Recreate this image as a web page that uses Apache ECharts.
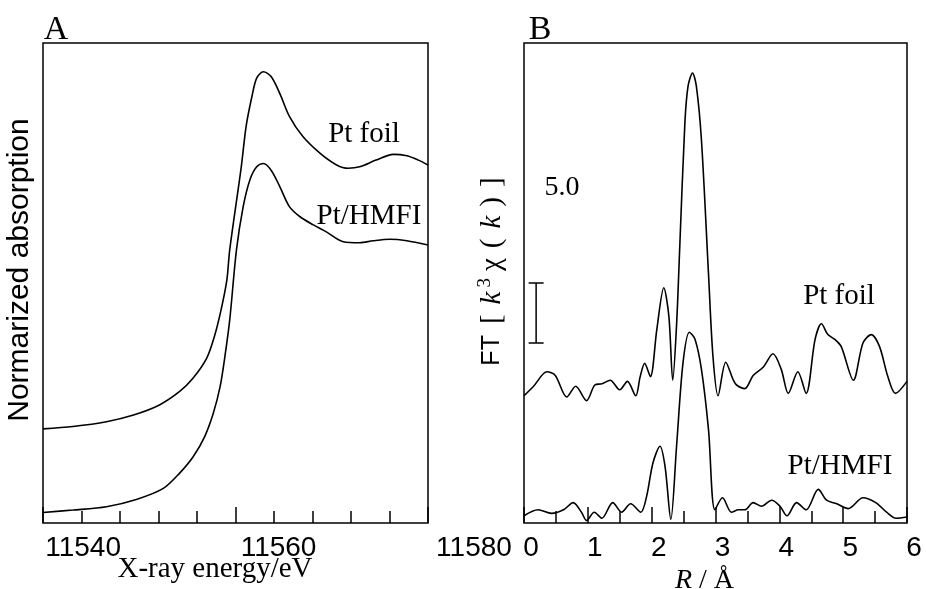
<!DOCTYPE html>
<html>
<head>
<meta charset="utf-8">
<script src="https://cdn.jsdelivr.net/npm/echarts@6/dist/echarts.min.js"></script>
<style>html,body{margin:0;padding:0;background:#fff;}#chart{width:926px;height:589px;}</style>
</head>
<body>
<div id="chart"></div>
<script>
// ---------- Panel A : XANES ----------
const aEnergyFoil = [11536.0, 11539.1, 11542.6, 11545.4, 11548.1, 11550.2, 11551.6, 11553.0, 11553.8, 11554.5, 11555.1, 11555.4, 11556.6, 11557.1, 11557.7, 11558.2, 11558.9, 11559.7, 11560.6, 11561.6, 11563.0, 11564.8, 11566.5, 11567.7, 11568.9, 11570.6, 11572.4, 11573.8, 11575.0, 11576.0];
const aFoil = [19.6, 20.1, 21.1, 22.5, 24.6, 27.4, 30.2, 34.3, 38.8, 44.4, 50.6, 56.9, 74.2, 82.6, 88.8, 92.7, 94.0, 93.0, 89.5, 84.7, 80.5, 77.0, 74.6, 73.9, 74.2, 75.6, 76.8, 76.5, 75.6, 74.6];
const aEnergyHmfi = [11536.0, 11539.1, 11542.6, 11545.7, 11548.5, 11550.2, 11551.6, 11552.8, 11553.7, 11554.4, 11554.9, 11555.4, 11556.1, 11556.8, 11557.5, 11558.2, 11558.9, 11559.7, 11560.6, 11561.6, 11562.7, 11564.1, 11565.4, 11567.2, 11568.9, 11570.3, 11572.0, 11573.8, 11576.0];
const aHmfi = [2.2, 2.7, 3.4, 4.9, 7.2, 10.4, 13.8, 18.0, 22.9, 28.4, 34.7, 42.3, 56.9, 65.9, 71.5, 74.2, 74.9, 73.5, 70.1, 65.9, 63.8, 62.1, 60.7, 58.6, 58.4, 58.8, 59.1, 58.8, 57.9];
const aTickLabels = [11540, 11560, 11580];

// ---------- Panel B : FT-EXAFS ----------
const bRFoil = [0.00, 0.15, 0.36, 0.49, 0.67, 0.81, 0.98, 1.11, 1.22, 1.35, 1.50, 1.62, 1.75, 1.82, 1.89, 1.98, 2.08, 2.19, 2.27, 2.33, 2.39, 2.44, 2.52, 2.57, 2.64, 2.70, 2.78, 2.89, 2.96, 3.04, 3.16, 3.28, 3.33, 3.46, 3.59, 3.75, 3.90, 4.03, 4.14, 4.29, 4.42, 4.56, 4.66, 4.76, 4.87, 4.97, 5.16, 5.31, 5.44, 5.57, 5.70, 5.82, 6.00];
const bFoil = [10.6, 11.4, 12.6, 12.3, 10.5, 11.4, 10.2, 11.5, 11.6, 11.9, 11.1, 11.8, 10.6, 12.2, 13.3, 12.2, 16.1, 19.6, 17.2, 11.9, 16.5, 23.0, 33.3, 36.4, 37.5, 36.4, 31.9, 20.8, 13.9, 10.6, 13.4, 11.9, 11.5, 11.2, 12.3, 13.0, 14.1, 12.8, 10.8, 12.6, 10.8, 15.3, 16.6, 15.7, 15.3, 14.7, 11.9, 15.0, 15.7, 14.7, 12.2, 10.8, 11.8];
const bRHmfi = [0.00, 0.22, 0.43, 0.62, 0.77, 0.90, 0.98, 1.10, 1.22, 1.39, 1.53, 1.67, 1.83, 1.92, 2.02, 2.13, 2.21, 2.30, 2.39, 2.49, 2.59, 2.68, 2.78, 2.89, 2.99, 3.11, 3.25, 3.36, 3.46, 3.59, 3.72, 3.88, 4.01, 4.12, 4.27, 4.42, 4.61, 4.74, 4.90, 5.08, 5.31, 5.51, 5.68, 5.83, 6.00];
const bHmfi = [0.6, 1.1, 0.8, 1.1, 1.7, 0.9, 0.2, 0.9, 0.4, 1.7, 0.9, 1.6, 0.9, 2.2, 5.0, 6.4, 4.7, 0.3, 6.4, 13.3, 15.9, 15.3, 12.8, 7.8, 1.1, 2.1, 0.9, 1.1, 1.1, 1.7, 1.4, 1.9, 1.4, 0.6, 1.7, 1.1, 2.8, 1.9, 1.6, 1.2, 2.1, 1.7, 0.9, 0.4, 0.5];
// scale bar: [R position, bottom, top]  (5.0 units)
const bScaleBar = [[0.19, 15, 20]];
const bScaleLabel = '5.0';

const zip = (xs, ys) => xs.map((x, i) => [x, ys[i]]);
const SERIF = "'Liberation Serif', 'Times New Roman', serif";
const SANS = "'Liberation Sans', Arial, sans-serif";
const lineW = 1.6;

const chart = echarts.init(document.getElementById('chart'), null, {renderer: 'canvas'});

const noSplit = {show: false};
const tickStyle = {color: '#000', width: 1.5};
function tickAxis(gridIndex, min, max, interval, length) {
  return {
    type: 'value', gridIndex: gridIndex, position: 'bottom', min: min, max: max, interval: interval,
    axisLine: {show: false, onZero: false}, axisLabel: {show: false}, splitLine: noSplit,
    axisTick: {show: true, inside: true, length: length, lineStyle: tickStyle}
  };
}

const option = {
  backgroundColor: '#fff',
  animation: false,
  grid: [
    {left: 43, top: 43, width: 385, height: 480, show: true, borderColor: '#000', borderWidth: 1.5, outerBoundsMode: 'none'},
    {left: 44, top: 43, width: 430, height: 480, show: false, outerBoundsMode: 'none'},
    {left: 524, top: 43, width: 383, height: 480, show: true, borderColor: '#000', borderWidth: 1.5, outerBoundsMode: 'none'}
  ],
  xAxis: [
    Object.assign(tickAxis(0, 11536, 11576, 20, 16), { // A : data axis + taller central tick
      name: 'X-ray energy/eV', nameLocation: 'middle', nameGap: 32,
      nameTextStyle: {fontFamily: SERIF, fontSize: 29, color: '#000', padding: [0, 41, 0, 0]}
    }),
    tickAxis(0, 11536, 11576, 4, 12), // A : small ticks
    { // A : tick labels
      type: 'value', gridIndex: 1, position: 'bottom', min: 11536, max: 11580, interval: 4,
      axisLine: {show: false}, axisTick: {show: false}, splitLine: noSplit,
      axisLabel: {
        show: true, margin: 11, showMaxLabel: true, showMinLabel: true,
        fontFamily: SANS, fontSize: 28, color: '#000',
        formatter: v => aTickLabels.indexOf(v) >= 0 ? String(v) : ''
      }
    },
    Object.assign(tickAxis(2, 0, 6, 1, 16), { // B : data axis, major ticks and labels
      axisLabel: {show: true, margin: 11, fontFamily: SANS, fontSize: 28, color: '#000', padding: [0, 0, 0, 14]},
      name: '{i|R} / Å', nameLocation: 'middle', nameGap: 32,
      nameTextStyle: {fontFamily: SERIF, fontSize: 28, color: '#000', padding: [0, 22, 0, 0],
        rich: {i: {fontFamily: SERIF, fontSize: 28, fontStyle: 'italic', color: '#000'}}}
    }),
    tickAxis(2, 0, 6, 0.5, 12) // B : half ticks
  ],
  yAxis: [
    {
      type: 'value', gridIndex: 0, min: 0, max: 100,
      axisLine: {show: false}, axisTick: {show: false}, axisLabel: {show: false}, splitLine: noSplit,
      name: 'Normarized absorption', nameLocation: 'middle', nameRotate: 90, nameGap: 8,
      nameTextStyle: {fontFamily: SANS, fontSize: 30, color: '#000', padding: [0, 0, 0, 26]}
    },
    {type: 'value', gridIndex: 1, show: false, min: 0, max: 100},
    {
      type: 'value', gridIndex: 2, min: 0, max: 40,
      axisLine: {show: false}, axisTick: {show: false}, axisLabel: {show: false}, splitLine: noSplit,
      name: '{s|FT}{t|[}{i|k}{sup|3}{t|χ}{t|(}{i|k}{t|)}{t|]}', nameLocation: 'middle', nameRotate: 90, nameGap: 15,
      nameTextStyle: {
        color: '#000', padding: [0, 0, 0, 28],
        rich: {
          s: {fontFamily: SANS, fontSize: 25, color: '#000', padding: [0, 6, 0, 0]},
          t: {fontFamily: SERIF, fontSize: 29, color: '#000', padding: [0, 5, 0, 5]},
          i: {fontFamily: SERIF, fontSize: 29, fontStyle: 'italic', color: '#000', padding: [0, 4, 0, 5]},
          sup: {fontFamily: SERIF, fontSize: 19, color: '#000', padding: [0, 2, 14, 0]}
        }
      }
    }
  ],
  series: [
    {name: 'Pt foil (XANES)', type: 'line', xAxisIndex: 0, yAxisIndex: 0, data: zip(aEnergyFoil, aFoil),
      smooth: 0.3, showSymbol: false, lineStyle: {color: '#000', width: lineW}},
    {name: 'Pt/HMFI (XANES)', type: 'line', xAxisIndex: 0, yAxisIndex: 0, data: zip(aEnergyHmfi, aHmfi),
      smooth: 0.3, showSymbol: false, lineStyle: {color: '#000', width: lineW}},
    {name: 'Pt foil (FT)', type: 'line', xAxisIndex: 3, yAxisIndex: 2, data: zip(bRFoil, bFoil),
      smooth: 0.3, showSymbol: false, lineStyle: {color: '#000', width: lineW}},
    {name: 'Pt/HMFI (FT)', type: 'line', xAxisIndex: 3, yAxisIndex: 2, data: zip(bRHmfi, bHmfi),
      smooth: 0.3, showSymbol: false, lineStyle: {color: '#000', width: lineW}},
    {name: 'scale bar', type: 'custom', xAxisIndex: 3, yAxisIndex: 2, data: bScaleBar,
      encode: {x: 0, y: [1, 2]},
      renderItem: function (params, api) {
        const x = api.value(0);
        const top = api.coord([x, api.value(2)]);
        const bot = api.coord([x, api.value(1)]);
        const w = 7.5;
        const st = {stroke: '#000', lineWidth: 1.5};
        return {type: 'group', children: [
          {type: 'line', shape: {x1: top[0], y1: top[1], x2: bot[0], y2: bot[1]}, style: st},
          {type: 'line', shape: {x1: top[0] - w, y1: top[1], x2: top[0] + w, y2: top[1]}, style: st},
          {type: 'line', shape: {x1: bot[0] - w, y1: bot[1], x2: bot[0] + w, y2: bot[1]}, style: st}
        ]};
      }
    }
  ],
  graphic: [
    {type: 'text', x: 56, y: 30, style: {text: 'A', font: '34px ' + SERIF, fill: '#000', align: 'center', verticalAlign: 'middle'}},
    {type: 'text', x: 540, y: 30, style: {text: 'B', font: '34px ' + SERIF, fill: '#000', align: 'center', verticalAlign: 'middle'}},
    {type: 'text', x: 364, y: 134, style: {text: 'Pt foil', font: '29px ' + SERIF, fill: '#000', align: 'center', verticalAlign: 'middle'}},
    {type: 'text', x: 369, y: 216, style: {text: 'Pt/HMFI', font: '29px ' + SERIF, fill: '#000', align: 'center', verticalAlign: 'middle'}},
    {type: 'text', x: 839, y: 296, style: {text: 'Pt foil', font: '29px ' + SERIF, fill: '#000', align: 'center', verticalAlign: 'middle'}},
    {type: 'text', x: 840, y: 466, style: {text: 'Pt/HMFI', font: '29px ' + SERIF, fill: '#000', align: 'center', verticalAlign: 'middle'}},
    {type: 'text', x: 562, y: 188, style: {text: bScaleLabel, font: '28px ' + SERIF, fill: '#000', align: 'center', verticalAlign: 'middle'}}
  ]
};
chart.setOption(option);
</script>
</body>
</html>
